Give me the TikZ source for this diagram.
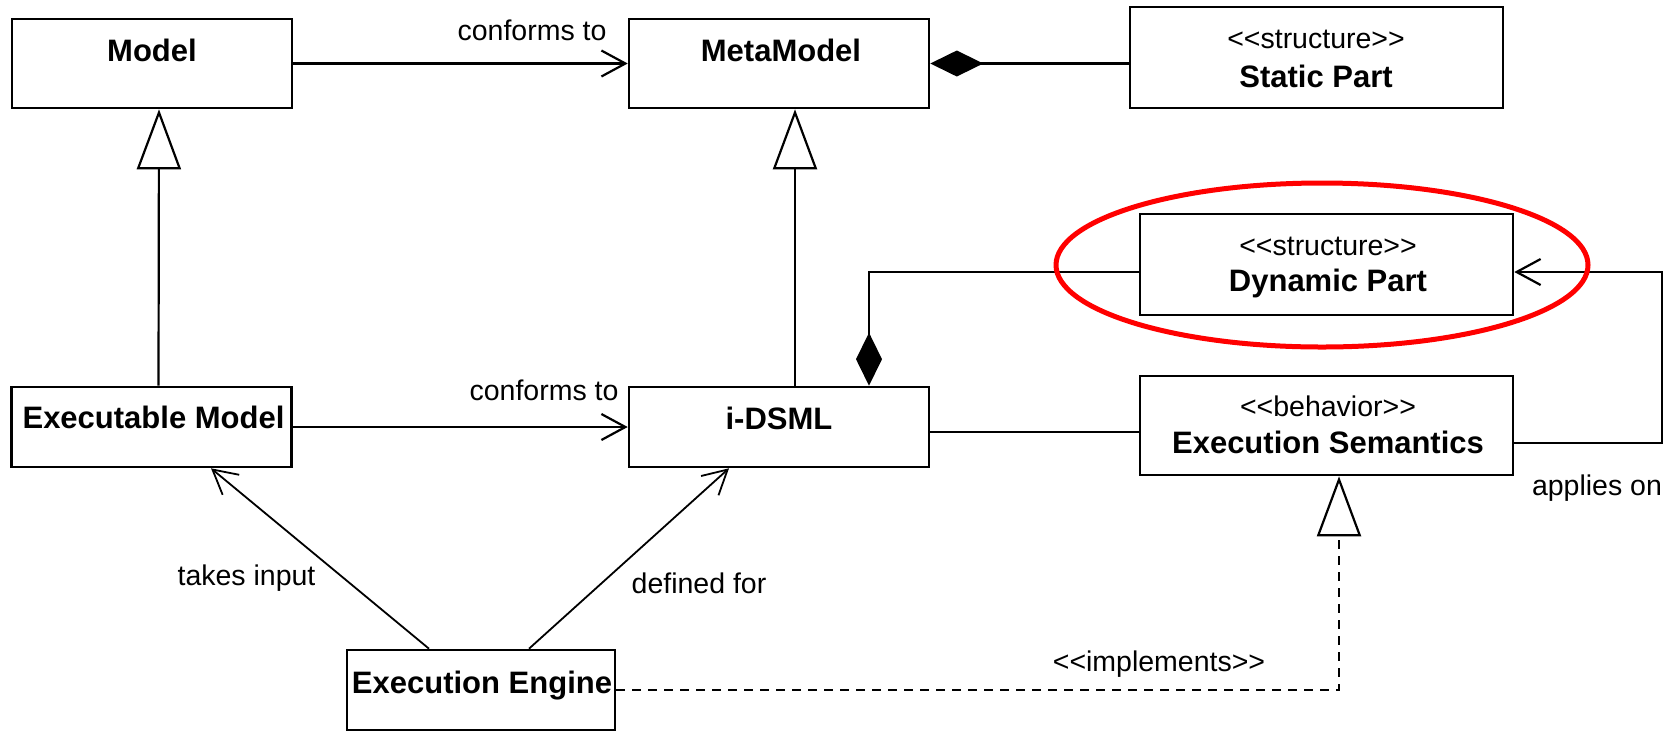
\documentclass[tikz,border=0pt]{standalone}
\usepackage{fontspec}
\setmainfont{Liberation Sans}[Ligatures=TeXOff]
\usetikzlibrary{arrows.meta}
\begin{document}
\begin{tikzpicture}[x=1pt,y=-1pt,
  box/.style={draw, line width=2.6pt, inner sep=0pt},
  title/.style={font=\fontsize{31}{36}\selectfont\bfseries, anchor=base, inner sep=0pt},
  stereo/.style={font=\fontsize{28.5}{34}\selectfont, anchor=base, inner sep=0pt},
  note/.style={font=\fontsize{28.5}{34}\selectfont, anchor=base, inner sep=0pt},
  conn/.style={line width=2.2pt},
  conforms/.style={conn, -{Straight Barb[length=24pt,width=26pt]}},
  uses/.style={line width=1.8pt, -{Straight Barb[length=24pt,width=26pt]}},
  generalizes/.style={conn, -{Triangle[open,length=60pt,width=44pt]}},
  composes/.style={conn, {Diamond[length=53pt,width=26pt]}-},
  realizes/.style={conn, dash pattern=on 9pt off 7pt, -{Triangle[open,length=60pt,width=44pt]}}
]
\useasboundingbox (0,0) rectangle (1669,732);

% classes
\node[box, minimum width=280pt, minimum height=89pt]  (model)     at (152,63.5)    {};
\node[box, minimum width=300pt, minimum height=89pt]  (meta)      at (779,63.5)    {};
\node[box, minimum width=373pt, minimum height=101pt] (static)    at (1316.5,57.5) {};
\node[box, minimum width=373pt, minimum height=101pt] (dynamic)   at (1326.5,264.5) {};
\node[box, minimum width=280pt, minimum height=80pt]  (execmodel) at (151.5,427)   {};
\node[box, minimum width=300pt, minimum height=80pt]  (idsml)     at (779,427)     {};
\node[box, minimum width=373pt, minimum height=99pt]  (execsem)   at (1326.5,425.5) {};
\node[box, minimum width=268pt, minimum height=80pt]  (engine)    at (481,690)     {};

% class names and stereotypes
\node[title]  (tmodel)     at (152,61.7)    {Model};
\node[title]  (tmeta)      at (781,61.7)    {MetaModel};
\node[stereo] (sstatic)    at (1316,48)     {<<structure>>};
\node[title]  (tstatic)    at (1316,87)     {Static Part};
\node[stereo] (sdynamic)   at (1328,255)    {<<structure>>};
\node[title]  (tdynamic)   at (1328,291.7)  {Dynamic Part};
\node[title]  (texecmodel) at (153.5,428.3) {Executable Model};
\node[title]  (tidsml)     at (779,429.3)   {i-DSML};
\node[stereo] (sexecsem)   at (1328,416.7)  {<<behavior>>};
\node[title]  (texecsem)   at (1328,453)    {Execution Semantics};
\node[title]  (tengine)    at (482,693)     {Execution Engine};

% relations
\draw[conforms] (model.east) -- (model.east -| meta.west);
\draw[composes] (meta.east) -- (meta.east -| static.west);
\draw[generalizes] ([xshift=7pt]execmodel.north) -- ([xshift=7pt]model.south);
\draw[generalizes] ([xshift=16pt]idsml.north) -- ([xshift=16pt]meta.south);
\draw[conforms] (execmodel.east) -- (execmodel.east -| idsml.west);
\draw[conn] ([yshift=-5pt]idsml.east) -- ([yshift=-5pt]idsml.east -| execsem.west);
\draw[composes] ([xshift=90pt]idsml.north) |- ([yshift=-7.5pt]dynamic.west);
\coordinate (loop) at (1662,443);
\draw[conforms] ([yshift=-17.5pt]execsem.east) -- (loop) |- ([yshift=-7.5pt]dynamic.east);
\draw[uses] ([xshift=-52pt]engine.north) -- ([xshift=59.5pt]execmodel.south);
\draw[uses] ([xshift=48pt]engine.north) -- ([xshift=-50pt]idsml.south);
\draw[realizes] (engine.east) -| ([xshift=12.5pt]execsem.south);

% relation labels
\node[note] (lconf1)   at (532,40)    {conforms to};
\node[note] (lconf2)   at (544,400)   {conforms to};
\node[note] (ltakes)   at (246.5,585) {takes input};
\node[note] (ldefined) at (699,593)   {defined for};
\node[note] (limpl)    at (1159,671)  {<<implements>>};
\node[note] (lapplies) at (1597,495)  {applies on};

% highlight
\draw[red, line width=5pt] (1322,265) ellipse [x radius=266pt, y radius=82pt];
\end{tikzpicture}
\end{document}
